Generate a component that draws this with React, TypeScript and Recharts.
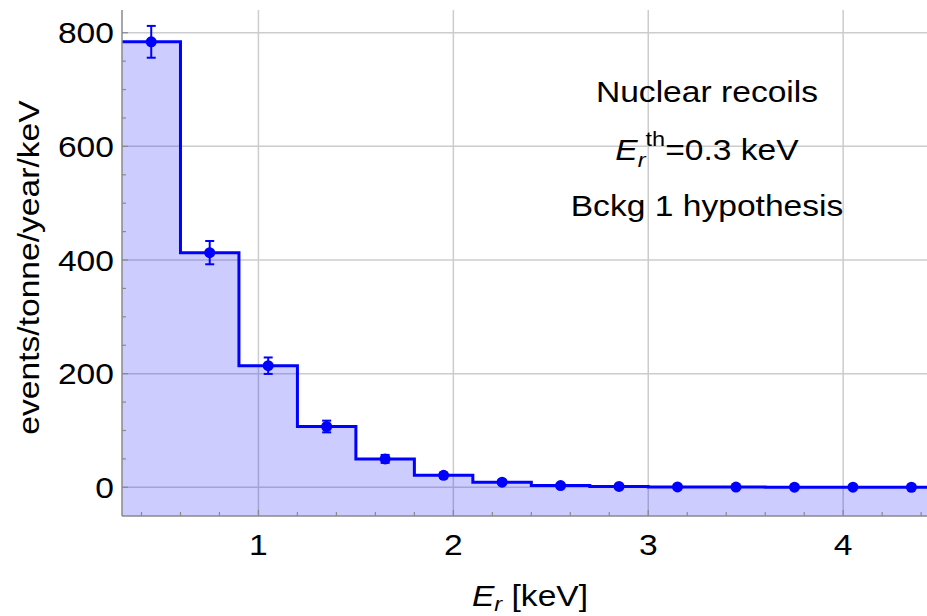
import React from 'react';
import { ComposedChart, XAxis, YAxis, CartesianGrid, Area, Scatter, ErrorBar } from 'recharts';

// histogram bins (keV) and the rate in each bin
const binEdges = [0.3, 0.6, 0.9, 1.2, 1.5, 1.8, 2.1, 2.4, 2.7, 3.0, 3.3, 3.6, 3.9, 4.2, 4.5];
const binCenters = [0.45, 0.75, 1.05, 1.35, 1.65, 1.95, 2.25, 2.55, 2.85, 3.15, 3.45, 3.75, 4.05, 4.35];
const rates = [784, 413, 214, 107, 50, 21, 9, 3, 1.5, 0.7, 0.4, 0.2, 0.15, 0.1];
const rateErrors = [28, 20.5, 14.5, 10.3, 7, 4.6, 3, 1.7, 1.2, 0.8, 0.6, 0.5, 0.4, 0.3];

const xMajorTicks = [1, 2, 3, 4];
const xMinorTicks = [0.4, 0.6, 0.8, 1.2, 1.4, 1.6, 1.8, 2.2, 2.4, 2.6, 2.8, 3.2, 3.4, 3.6, 3.8, 4.2, 4.4];
const yMajorTicks = [0, 200, 400, 600, 800];
const yMinorTicks = [50, 100, 150, 250, 300, 350, 450, 500, 550, 650, 700, 750];

const xDomain = [0.3, 4.43];
const yDomain = [-50.5, 840];

const BLUE = '#0000ff';
const FRAME = '#8a8a8a';
const GRID = '#cccccc';
const FONT = '"Liberation Sans", Arial, Helvetica, sans-serif';
const STRETCH = 1.12;

const stepData = binEdges.map((x, i) => ({ x, y: rates[Math.min(i, rates.length - 1)] }));
const pointData = binCenters.map((x, i) => ({ x, y: rates[i], err: rateErrors[i] }));

function WideText({ x, y, anchor = 'middle', rotate = 0, size = 30, children }: any) {
  return (
    <g transform={`translate(${x},${y}) rotate(${rotate}) scale(${STRETCH},1)`}>
      <text x={0} y={0} textAnchor={anchor} fontFamily={FONT} fontSize={size} fill="#000">
        {children}
      </text>
    </g>
  );
}

const BottomTick = (props: any) => {
  const { x, y, payload } = props;
  const major = xMajorTicks.includes(payload.value);
  return (
    <g>
      <line x1={x} x2={x} y1={y} y2={y - (major ? 6 : 4)} stroke={FRAME} strokeWidth={1.2} />
      {major && <WideText x={x} y={y + 39}>{payload.value}</WideText>}
    </g>
  );
};

const TopTick = (props: any) => {
  const { x, y, payload } = props;
  const major = xMajorTicks.includes(payload.value);
  return <line x1={x} x2={x} y1={y} y2={y + (major ? 6 : 4)} stroke={FRAME} strokeWidth={1.2} />;
};

const LeftTick = (props: any) => {
  const { x, y, payload } = props;
  const major = yMajorTicks.includes(payload.value);
  return (
    <g>
      <line x1={x} x2={x + (major ? 6 : 4)} y1={y} y2={y} stroke={FRAME} strokeWidth={1.2} />
      {major && <WideText x={x - 8} y={y + 10.5} anchor="end">{payload.value}</WideText>}
    </g>
  );
};

const Dot = (props: any) => <circle cx={props.cx} cy={props.cy} r={5.5} fill={BLUE} />;

export default function App() {
  const allX = [...xMinorTicks, ...xMajorTicks].sort((a, b) => a - b);
  const allY = [...yMinorTicks, ...yMajorTicks].sort((a, b) => a - b);

  return (
    <div style={{ position: 'fixed', left: 0, top: 0, width: 927, height: 616, background: '#fff' }}>
      <ComposedChart width={927} height={616} margin={{ top: 10, right: 0, bottom: 0, left: 0 }}>
        <CartesianGrid
          stroke={GRID}
          strokeWidth={1.5}
          verticalValues={xMajorTicks}
          horizontalValues={yMajorTicks}
        />
        <XAxis
          type="number"
          dataKey="x"
          domain={xDomain}
          allowDataOverflow
          ticks={allX}
          interval={0}
          height={100}
          tickSize={0}
          tickMargin={0}
          tickLine={false}
          axisLine={{ stroke: FRAME, strokeWidth: 1.5 }}
          tick={<BottomTick />}
        />
        <XAxis
          xAxisId="top"
          orientation="top"
          type="number"
          dataKey="x"
          domain={xDomain}
          allowDataOverflow
          ticks={allX}
          interval={0}
          height={0}
          tickSize={0}
          tickMargin={0}
          tickLine={false}
          axisLine={{ stroke: FRAME, strokeWidth: 1.5 }}
          tick={<TopTick />}
        />
        <YAxis
          type="number"
          dataKey="y"
          domain={yDomain}
          allowDataOverflow
          ticks={allY}
          interval={0}
          width={122}
          tickSize={0}
          tickMargin={0}
          tickLine={false}
          axisLine={{ stroke: FRAME, strokeWidth: 1.5 }}
          tick={<LeftTick />}
        />
        <Area
          data={stepData}
          dataKey="y"
          type="stepAfter"
          baseValue={yDomain[0]}
          stroke={BLUE}
          strokeWidth={3}
          fill={BLUE}
          fillOpacity={0.2}
          dot={false}
          activeDot={false}
          isAnimationActive={false}
        />
        <Scatter data={pointData} dataKey="y" fill={BLUE} shape={Dot} isAnimationActive={false}>
          <ErrorBar dataKey="err" direction="y" width={4.5} stroke={BLUE} strokeWidth={2} isAnimationActive={false} />
        </Scatter>
      </ComposedChart>

      <svg width={927} height={616} style={{ position: 'absolute', left: 0, top: 0, pointerEvents: 'none' }}>
        <WideText x={38.5} y={267.5} rotate={-90}>events/tonne/year/keV</WideText>
        <WideText x={530} y={606}>
          <tspan fontStyle="italic">E</tspan>
          <tspan fontStyle="italic" fontSize={21} dy={5}>r</tspan>
          <tspan dy={-5}> [keV]</tspan>
        </WideText>
        <WideText x={707} y={102}>Nuclear recoils</WideText>
        <WideText x={707} y={160}>
          <tspan fontStyle="italic">E</tspan>
          <tspan fontStyle="italic" fontSize={21} dy={7}>r</tspan>
          <tspan fontSize={21} dy={-21}>th</tspan>
          <tspan dy={14}>=0.3 keV</tspan>
        </WideText>
        <WideText x={707} y={216}>Bckg 1 hypothesis</WideText>
      </svg>
    </div>
  );
}
